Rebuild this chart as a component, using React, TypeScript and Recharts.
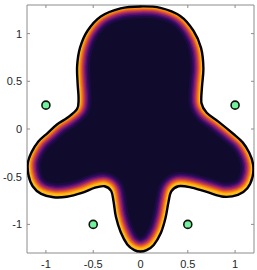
import React from "react";
import { ScatterChart, Scatter, XAxis, YAxis } from "recharts";

const xTicks = [-1, -0.5, 0, 0.5, 1];
const yTicks = [-1, -0.5, 0, 0.5, 1];
const xDomain = [-1.2, 1.2];
const yDomain = [-1.3, 1.3];

// boundary of the domain (counter-clockwise from the top)
const boundaryX = [
  0, -0.21, -0.42, -0.56, -0.64, -0.67, -0.665, -0.655, -0.67, -0.77, -0.88, -0.98, -1.08, -1.15,
  -1.19, -1.185, -1.14, -1.05, -0.92, -0.78, -0.62, -0.48, -0.38, -0.31, -0.285, -0.26, -0.21,
  -0.14, -0.065, 0, 0.065, 0.14, 0.215, 0.265, 0.295, 0.325, 0.4, 0.52, 0.7, 0.88, 1.03, 1.13,
  1.185, 1.19, 1.15, 1.08, 0.98, 0.82, 0.7, 0.645, 0.65, 0.665, 0.64, 0.56, 0.42, 0.21,
];
const boundaryY = [
  1.285, 1.265, 1.18, 1.03, 0.85, 0.66, 0.48, 0.32, 0.21, 0.12, 0.05, -0.04, -0.13, -0.24, -0.35,
  -0.48, -0.6, -0.68, -0.715, -0.71, -0.67, -0.615, -0.6, -0.65, -0.76, -0.92, -1.08, -1.21,
  -1.27, -1.285, -1.27, -1.215, -1.09, -0.93, -0.77, -0.655, -0.6, -0.61, -0.66, -0.71, -0.69,
  -0.62, -0.5, -0.37, -0.25, -0.14, -0.05, 0.08, 0.17, 0.27, 0.44, 0.64, 0.85, 1.03, 1.185, 1.27,
];

// source points
const sourceX = [-1, 1, -0.5, 0.5];
const sourceY = [0.25, 0.25, -1, -1];

const boundary = boundaryX.map((x, i) => ({ x, y: boundaryY[i] }));
const sources = sourceX.map((x, i) => ({ x, y: sourceY[i] }));

// inferno-ish band, widest (darkest) first
const bands = [
  { w: 13, c: "#1a0c40" },
  { w: 11, c: "#320a5e" },
  { w: 9.5, c: "#57106e" },
  { w: 8.2, c: "#7f1f6c" },
  { w: 7, c: "#a52c60" },
  { w: 6, c: "#c73e4c" },
  { w: 5, c: "#e45a31" },
  { w: 4, c: "#f57d15" },
  { w: 3.1, c: "#fb9b06" },
  { w: 2.3, c: "#fbba1f" },
];

function closedPath(pts: { x: number; y: number }[]) {
  const n = pts.length;
  let d = `M${pts[0].x},${pts[0].y}`;
  for (let i = 0; i < n; i++) {
    const p0 = pts[(i - 1 + n) % n];
    const p1 = pts[i];
    const p2 = pts[(i + 1) % n];
    const p3 = pts[(i + 2) % n];
    const c1x = p1.x + (p2.x - p0.x) / 6;
    const c1y = p1.y + (p2.y - p0.y) / 6;
    const c2x = p2.x - (p3.x - p1.x) / 6;
    const c2y = p2.y - (p3.y - p1.y) / 6;
    d += ` C${c1x},${c1y} ${c2x},${c2y} ${p2.x},${p2.y}`;
  }
  return d + " Z";
}

function Blob(props: any) {
  const pts = props.points || [];
  if (pts.length < 3) return <g />;
  const d = closedPath(pts);
  return (
    <g>
      <defs>
        <clipPath id="blobClip">
          <path d={d} />
        </clipPath>
      </defs>
      <path d={d} fill="#100b2c" stroke="none" />
      <g clipPath="url(#blobClip)">
        <g transform="translate(0,-1.3)">
          {bands.map((b) => (
            <path key={b.c} d={d} fill="none" stroke={b.c} strokeWidth={b.w * 2} strokeLinejoin="round" />
          ))}
        </g>
      </g>
      <path d={d} fill="none" stroke="#000" strokeWidth={2.4} />
    </g>
  );
}

const tickStyle = { fill: "#262626", fontSize: 11, fontFamily: "Liberation Sans, Arial, sans-serif" };
const lineStyle = { stroke: "#8c8c8c" };
const noLabel = () => <g />;

export default function App() {
  return (
    <div style={{ position: "absolute", left: 0, top: 0, background: "#fff" }}>
      <ScatterChart width={257} height={270} margin={{ top: 0, right: 0, bottom: 0, left: 0 }}>
        <XAxis type="number" dataKey="x" domain={xDomain} ticks={xTicks} interval={0} height={17}
          allowDataOverflow tickSize={-3} tickMargin={10} tick={tickStyle} axisLine={lineStyle} tickLine={lineStyle} />
        <XAxis xAxisId="top" orientation="top" type="number" dataKey="x" domain={xDomain} ticks={xTicks}
          interval={0} height={5} allowDataOverflow tickSize={-3} tick={noLabel} axisLine={lineStyle} tickLine={lineStyle} />
        <YAxis type="number" dataKey="y" domain={yDomain} ticks={yTicks} interval={0} width={27}
          allowDataOverflow tickSize={-3} tickMargin={8} tick={tickStyle} axisLine={lineStyle} tickLine={lineStyle} />
        <YAxis yAxisId="right" orientation="right" type="number" dataKey="y" domain={yDomain} ticks={yTicks}
          interval={0} width={3} allowDataOverflow tickSize={-3} tick={noLabel} axisLine={lineStyle} tickLine={lineStyle} />
        <Scatter data={boundary} isAnimationActive={false} shape={() => <g />}
          line={(p: any) => <Blob points={p.points} />} />
        <Scatter data={sources} isAnimationActive={false}
          shape={(p: any) => <circle cx={p.cx} cy={p.cy} r={4} fill="#72f29a" stroke="#111" strokeWidth={1.6} />} />
      </ScatterChart>
    </div>
  );
}
